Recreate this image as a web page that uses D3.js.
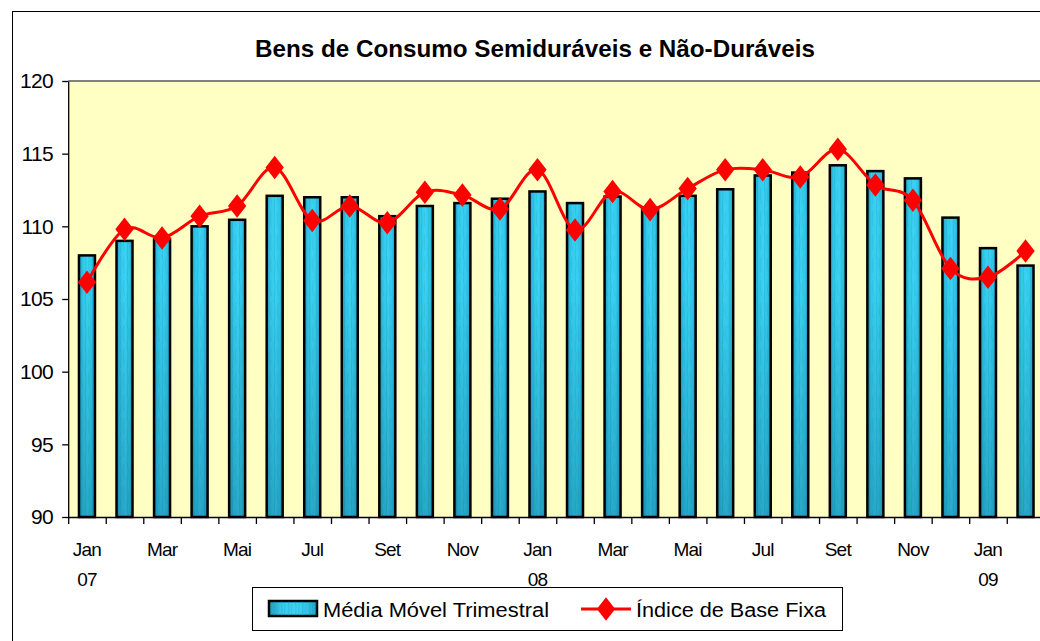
<!DOCTYPE html>
<html><head><meta charset="utf-8">
<script src="https://cdn.jsdelivr.net/npm/d3@7"></script>
<style>
html,body{margin:0;padding:0;background:#fff;}
svg{display:block;font-family:"Liberation Sans",Arial,sans-serif;}
</style></head>
<body><svg id="c" width="1040" height="641"></svg>
<script>
const title = "Bens de Consumo Semiduráveis e Não-Duráveis";
const months = ["2007-01","2007-02","2007-03","2007-04","2007-05","2007-06","2007-07","2007-08","2007-09","2007-10","2007-11","2007-12",
                "2008-01","2008-02","2008-03","2008-04","2008-05","2008-06","2008-07","2008-08","2008-09","2008-10","2008-11","2008-12",
                "2009-01","2009-02"];
const monthLabels = ["Jan","","Mar","","Mai","","Jul","","Set","","Nov","",
                     "Jan","","Mar","","Mai","","Jul","","Set","","Nov","",
                     "Jan",""];
const yearLabels = ["07","","","","","","","","","","","",
                    "08","","","","","","","","","","","",
                    "09",""];
const mediaMovel = [108.0,109.0,109.1,110.0,110.45,112.1,112.0,112.0,110.7,111.4,111.6,111.9,
                    112.4,111.6,112.05,111.25,112.1,112.55,113.5,113.7,114.2,113.8,113.3,110.6,
                    108.5,107.3];
const indiceBase = [106.15,109.8,109.2,110.7,111.4,114.05,110.4,111.4,110.25,112.35,112.15,111.2,
                    113.9,109.75,112.4,111.15,112.6,113.9,113.9,113.4,115.3,112.85,111.8,107.1,
                    106.5,108.3];
const yTicks = [90,95,100,105,110,115,120];
const seriesNames = ["Média Móvel Trimestral","Índice de Base Fixa"];

const svg = d3.select("#c");
const L = 68.2, R = 1044.3, T = 81, B = 517;

const x = d3.scaleBand().domain(months).range([L, R]).padding(0);
const xi = d3.scaleLinear().domain([0, months.length]).range([L, R]);
const y = d3.scaleLinear().domain([90, 120]).range([B, T]);

const defs = svg.append("defs");
const g1 = defs.append("linearGradient").attr("id","barH").attr("x1","0").attr("x2","1").attr("y1","0").attr("y2","0");
[["0%","#1e9dbb"],["25%","#33c9ec"],["55%","#3ad3f3"],["80%","#30c6ea"],["100%","#1f9fbd"]].forEach(s=>g1.append("stop").attr("offset",s[0]).attr("stop-color",s[1]));
const g2 = defs.append("linearGradient").attr("id","barV").attr("gradientUnits","userSpaceOnUse")
  .attr("x1",0).attr("x2",0).attr("y1",T+200).attr("y2",B);
g2.append("stop").attr("offset","0%").attr("stop-color","#004a66").attr("stop-opacity",0);
g2.append("stop").attr("offset","100%").attr("stop-color","#004a66").attr("stop-opacity",0.3);
const pat = defs.append("pattern").attr("id","streak").attr("patternUnits","userSpaceOnUse").attr("width",7).attr("height",23);
pat.append("path").attr("d","M1,0 L2,9 L1.5,23").attr("stroke","#1582a3").attr("stroke-width",0.8).attr("fill","none").attr("opacity",0.3);
pat.append("path").attr("d","M5,4 L4.5,14 L5.5,20").attr("stroke","#1582a3").attr("stroke-width",0.6).attr("fill","none").attr("opacity",0.25);

// outer frame
svg.append("rect").attr("x",12.5).attr("y",11.5).attr("width",1100).attr("height",700)
  .attr("fill","#fff").attr("stroke","#000").attr("stroke-width",1);

// title
svg.append("text").attr("x",535).attr("y",57).attr("text-anchor","middle")
  .attr("font-size",24).attr("font-weight","bold").attr("textLength",560).attr("lengthAdjust","spacingAndGlyphs")
  .text(title);

// plot background
svg.append("rect").attr("x",L).attr("y",T).attr("width",R-L).attr("height",B-T).attr("fill","#ffffc4");
svg.append("line").attr("x1",L).attr("x2",R).attr("y1",T).attr("y2",T).attr("stroke","#808080").attr("stroke-width",2);

// bars
const bw = 16;
const bars = svg.append("g");
const bx = d => x(d) + (x.bandwidth()-bw)/2;
bars.selectAll("rect.b").data(months).join("rect").attr("class","b")
  .attr("x", bx).attr("width", bw)
  .attr("y", (d,i)=>y(mediaMovel[i])).attr("height",(d,i)=>B - y(mediaMovel[i]))
  .attr("fill","url(#barH)");
bars.selectAll("rect.s").data(months).join("rect").attr("class","s")
  .attr("x", bx).attr("width", bw)
  .attr("y", (d,i)=>y(mediaMovel[i])).attr("height",(d,i)=>B - y(mediaMovel[i]))
  .attr("fill","url(#streak)");
bars.selectAll("rect.v").data(months).join("rect").attr("class","v")
  .attr("x", bx).attr("width", bw)
  .attr("y", (d,i)=>y(mediaMovel[i])).attr("height",(d,i)=>B - y(mediaMovel[i]))
  .attr("fill","url(#barV)").attr("stroke","#000").attr("stroke-width",2.5);

// line
const cx = d => x(d) + x.bandwidth()/2;
const line = d3.line().x((d,i)=>cx(months[i])).y(d=>y(d)).curve(d3.curveCardinal.tension(0));
svg.append("path").datum(indiceBase).attr("d",line).attr("fill","none").attr("stroke","#ff0000").attr("stroke-width",3);
const dia = d3.symbol().type(d3.symbolDiamond).size(160);
svg.selectAll("path.m").data(indiceBase).join("path").attr("class","m")
  .attr("transform",(d,i)=>`translate(${cx(months[i])},${y(d)}) scale(1.35,1)`)
  .attr("d",dia).attr("fill","#ff0000");

// y axis
const ya = svg.append("g").attr("transform",`translate(${L},0)`)
  .call(d3.axisLeft(y).tickValues(yTicks).tickSize(6).tickSizeOuter(0).tickPadding(9));
ya.selectAll("text").attr("font-size",21).attr("fill","#000").attr("letter-spacing","-0.6").attr("font-family","Liberation Sans, Arial, sans-serif");
ya.selectAll("line,path").attr("stroke","#000").attr("stroke-width",1.3);

// x axis
const xa = svg.append("g").attr("transform",`translate(0,${B})`)
  .call(d3.axisBottom(xi).tickValues(d3.range(months.length+1)).tickSize(7).tickSizeOuter(0).tickFormat(""));
xa.selectAll("line,path").attr("stroke","#000").attr("stroke-width",1.3);

const xl = svg.append("g").attr("font-size",19).attr("fill","#000").attr("letter-spacing","-0.8");
xl.selectAll("text.mo").data(months).join("text").attr("class","mo")
  .attr("x",d=>cx(d)).attr("y",556).attr("text-anchor","middle").text((d,i)=>monthLabels[i]);
xl.selectAll("text.yr").data(months).join("text").attr("class","yr")
  .attr("x",d=>cx(d)).attr("y",586).attr("text-anchor","middle").text((d,i)=>yearLabels[i]);

// legend
const lg = svg.append("g");
lg.append("rect").attr("x",252.5).attr("y",587.5).attr("width",590).attr("height",43).attr("fill","#fff").attr("stroke","#000").attr("stroke-width",1);
lg.append("rect").attr("x",269).attr("y",601).attr("width",48).attr("height",15).attr("fill","url(#barH)").attr("stroke","#000").attr("stroke-width",2.5);
lg.append("rect").attr("x",269).attr("y",601).attr("width",48).attr("height",15).attr("fill","url(#streak)");
lg.append("text").attr("x",323).attr("y",617).attr("font-size",20).attr("textLength",226).attr("lengthAdjust","spacingAndGlyphs").text(seriesNames[0]);
lg.append("line").attr("x1",581).attr("x2",631).attr("y1",609).attr("y2",609).attr("stroke","#ff0000").attr("stroke-width",3);
lg.append("path").attr("d",dia).attr("transform","translate(606,609) scale(1.35,1)").attr("fill","#ff0000");
lg.append("text").attr("x",636).attr("y",617).attr("font-size",20).attr("textLength",190).attr("lengthAdjust","spacingAndGlyphs").text(seriesNames[1]);
</script></body></html>
